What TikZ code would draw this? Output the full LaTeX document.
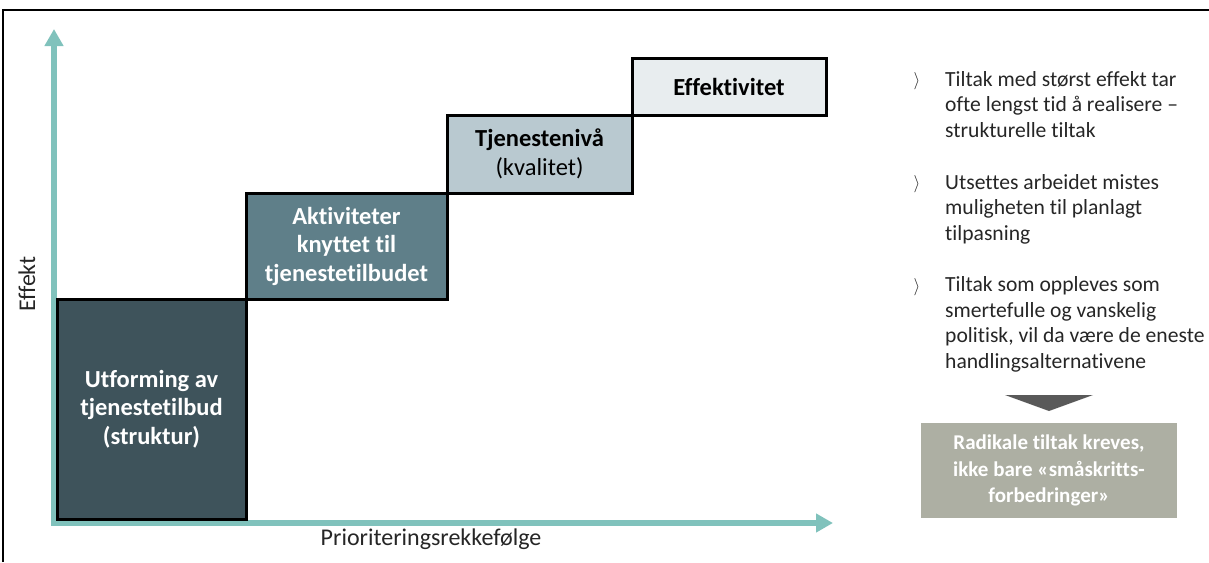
\documentclass[tikz,border=0pt]{standalone}
\usepackage{fontspec}
\setmainfont{Carlito}[Ligatures=NoCommon]
\usetikzlibrary{arrows.meta}

\definecolor{axisteal}{HTML}{80C2BC}
\definecolor{stepdark}{HTML}{3E535B}
\definecolor{stepmid}{HTML}{5F7F89}
\definecolor{steplight}{HTML}{B9C9D0}
\definecolor{steppale}{HTML}{E8EDEF}
\definecolor{notegray}{HTML}{ADAFA3}
\definecolor{arrowgray}{HTML}{595959}
\definecolor{bodytext}{HTML}{262626}

\begin{document}
\begin{tikzpicture}[x=1pt,y=-1pt,
  stepbox/.style={draw=black, line width=3pt, inner sep=0pt, align=center,
    font=\bfseries\fontsize{24.5}{28.5}\selectfont},
  axisline/.style={draw=axisteal, line width=6pt,
    {Triangle[width=18pt,length=17pt]}-{Triangle[width=18pt,length=17pt]}},
  axislabel/.style={text=bodytext, font=\fontsize{24}{28}\selectfont, inner sep=0pt},
  pointtext/.style={text=bodytext, align=left, inner sep=0pt, anchor=base west,
    font=\fontsize{21.6}{25.5}\selectfont},
  pointmark/.style={text=bodytext, inner sep=0pt, font=\fontsize{19}{19}\selectfont},
  notebox/.style={fill=notegray, text=white, align=center, inner sep=0pt,
    minimum width=256pt, minimum height=95pt,
    font=\bfseries\fontsize{21}{26.5}\selectfont}
]
\useasboundingbox (0,0) rectangle (1209,562);

% frame
\draw[line width=2.5pt] (3,562) -- (3,10) -- (1209,10);

% axes
\coordinate (origin) at (54,523);
\coordinate (ytip) at (54,29);
\coordinate (xtip) at (833,523);
\draw[axisline] (ytip) -- (origin) -- (xtip);
\node[axislabel, rotate=90] (ylab) at (27,284) {Effekt};
\node[axislabel, anchor=base] (xlab) at (431,545) {Prioriteringsrekkefølge};

% staircase of steps
\node[stepbox, fill=stepdark, text=white, minimum width=189pt, minimum height=220pt]
  (s1) at (151.5,409) {Utforming av\\tjenestetilbud\\(struktur)};
\node[stepbox, fill=stepmid, text=white, minimum width=201pt, minimum height=106pt]
  (s2) at (346.5,246) {Aktiviteter\\knyttet til\\tjenestetilbudet};
\node[stepbox, fill=steplight, text=black, minimum width=185pt, minimum height=78pt]
  (s3) at (539.5,154) {Tjenestenivå\\\mdseries(kvalitet)};
\node[stepbox, fill=steppale, text=black, minimum width=194pt, minimum height=57pt]
  (s4) at (729,86.5) {Effektivitet};

% points on the right (anchored at the baseline of their last line)
\node[pointmark] (m1) at (917,81) {$\rangle$};
\node[pointtext] (p1) at (945,137) {Tiltak med størst effekt tar\\ofte lengst tid å realisere –\\strukturelle tiltak};
\node[pointmark] (m2) at (917,184) {$\rangle$};
\node[pointtext] (p2) at (945,240) {Utsettes arbeidet mistes\\muligheten til planlagt\\tilpasning};
\node[pointmark] (m3) at (917,287) {$\rangle$};
\node[pointtext] (p3) at (945,368) {Tiltak som oppleves som\\smertefulle og vanskelig\\politisk, vil da være de eneste\\handlingsalternativene};

% conclusion
\coordinate (tl) at (1005,395);
\coordinate (tr) at (1093,395);
\coordinate (tip) at (1049,411);
\fill[arrowgray] (tl) -- (tr) -- (tip) -- cycle;
\node[notebox] (note) at (1049,470.5) {Radikale tiltak kreves,\\ikke bare «småskritts-\\forbedringer»};
\end{tikzpicture}
\end{document}
